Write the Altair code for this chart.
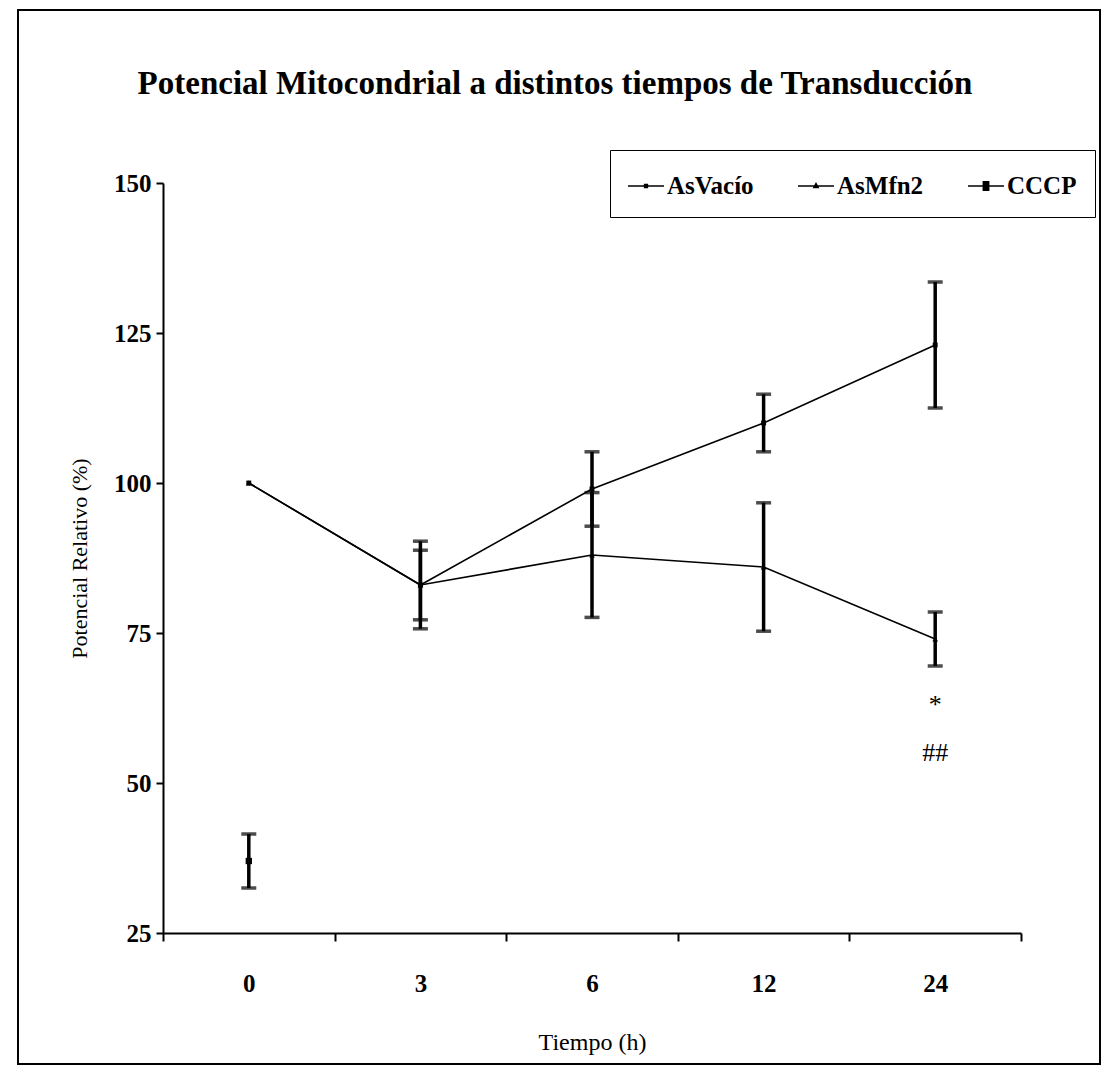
import altair as alt
import pandas as pd

# ---- data ----
times = ["0", "3", "6", "12", "24"]
series = ["AsVacío", "AsMfn2", "CCCP"]
asvacio = [100, 83, 99, 110, 123]
asvacio_err = [0, 7.3, 6.2, 4.8, 10.5]
asmfn2 = [100, 83, 88, 86, 74]
asmfn2_err = [0, 5.8, 10.4, 10.7, 4.5]
cccp_times = ["0"]
cccp = [37]
cccp_err = [4.5]
note_text = ["*", "##"]
note_times = ["24", "24"]
note_y = [63, 55]
title_text = "Potencial Mitocondrial a distintos tiempos de Transducción"
y_ticks = [25, 50, 75, 100, 125, 150]

rows = []
for t, v, e in zip(times, asvacio, asvacio_err):
    rows.append({"t": t, "serie": "AsVacío", "v": v, "e": e})
for t, v, e in zip(times, asmfn2, asmfn2_err):
    rows.append({"t": t, "serie": "AsMfn2", "v": v, "e": e})
for t, v, e in zip(cccp_times, cccp, cccp_err):
    rows.append({"t": t, "serie": "CCCP", "v": v, "e": e})
df = pd.DataFrame(rows)
df["lo"] = df["v"] - df["e"]
df["hi"] = df["v"] + df["e"]
notes = pd.DataFrame({"t": note_times, "y": note_y, "lab": note_text})

FONT = "Liberation Serif"

xscale = alt.Scale(type="band", domain=times, paddingInner=0, paddingOuter=0)
xaxis = alt.Axis(title="Tiempo (h)", labelAngle=0, tickBand="extent", grid=False,
                 labelFont=FONT, labelFontSize=25, labelFontWeight="bold", labelColor="black",
                 labelPadding=30, tickSize=8, tickWidth=2, tickColor="black",
                 domainColor="black", domainWidth=2,
                 titleFont=FONT, titleFontSize=24, titleFontWeight="normal", titleColor="black",
                 titlePadding=34)
yscale = alt.Scale(domain=[25, 150], nice=False, zero=False)
yaxis = alt.Axis(title="Potencial Relativo (%)", values=y_ticks, grid=False,
                 labelFont=FONT, labelFontSize=25, labelFontWeight="bold", labelColor="black",
                 labelPadding=5, tickSize=7, tickWidth=2, tickColor="black",
                 domainColor="black", domainWidth=2,
                 titleFont=FONT, titleFontSize=22, titleFontWeight="normal", titleColor="black",
                 titlePadding=22)


def X():
    return alt.X("t:N", scale=xscale, axis=xaxis, sort=times)


def Y(field):
    return alt.Y(f"{field}:Q", scale=yscale, axis=yaxis)


base = alt.Chart(df)
errs = base.transform_filter("datum.e > 0")

lines = base.transform_filter("datum.serie != 'CCCP'").mark_line(
    color="black", strokeWidth=1.6
).encode(x=X(), y=Y("v"), detail="serie:N")

bars = errs.mark_rule(color="black", strokeWidth=3.5).encode(
    x=X(), y=Y("lo"), y2="hi:Q")
caps_lo = errs.mark_tick(color="black", thickness=3.5, size=15, orient="horizontal").encode(
    x=X(), y=Y("lo"))
caps_hi = errs.mark_tick(color="black", thickness=3.5, size=15, orient="horizontal").encode(
    x=X(), y=Y("hi"))

points = base.mark_point(filled=True, color="black", opacity=1).encode(
    x=X(), y=Y("v"),
    shape=alt.Shape("serie:N", scale=alt.Scale(domain=series,
                    range=["square", "triangle-up", "square"]), legend=None),
    size=alt.Size("serie:O", scale=alt.Scale(domain=series, range=[24, 40, 95]), legend=None),
)

legend_paths = [
    "M-1,-0.045H1V0.045H-1ZM-0.12,-0.12H0.12V0.12H-0.12Z",
    "M-1,-0.045H1V0.045H-1ZM0,-0.22L0.19,0.12H-0.19Z",
    "M-1,-0.045H1V0.045H-1ZM-0.19,-0.28H0.19V0.28H-0.19Z",
]
legend_layer = base.mark_point(filled=True, color="black", opacity=0).encode(
    x=X(), y=Y("v"),
    shape=alt.Shape("serie:N", scale=alt.Scale(domain=series, range=legend_paths),
                    legend=alt.Legend(title=None, orient="none", legendX=447, legendY=-33,
                                      direction="horizontal", columns=3,
                                      symbolSize=1296, symbolStrokeWidth=0,
                                      symbolFillColor="black",
                                      symbolOpacity=1,
                                      labelFont=FONT, labelFontSize=25, labelFontWeight="bold",
                                      labelColor="black", labelOffset=3,
                                      columnPadding=44, padding=18,
                                      strokeColor="black", fillColor="white")),
)

note_layer = alt.Chart(notes).mark_text(font=FONT, fontSize=26, color="black").encode(
    x=X(), y=Y("y"), text="lab:N")

frame = alt.Chart(pd.DataFrame({"a": [0]})).mark_rect(
    fill=None, stroke="black", strokeWidth=2
).encode(x=alt.value(-145), x2=alt.value(937), y=alt.value(-173), y2=alt.value(881))

chart = alt.layer(
    frame, lines, bars, caps_lo, caps_hi, points, legend_layer, note_layer
).resolve_scale(shape="independent", size="independent").properties(
    width=858, height=750,
    padding={"left": 155, "top": 175, "right": 82, "bottom": 135},
    autosize=alt.AutoSizeParams(type="none"),
    title=alt.TitleParams(title_text, font=FONT, fontSize=33, fontWeight="bold",
                          color="black", anchor="middle", dx=-37, offset=-92),
).configure_view(stroke=None)

chart.save("out.html", embed_options={"renderer": "svg", "actions": False})
